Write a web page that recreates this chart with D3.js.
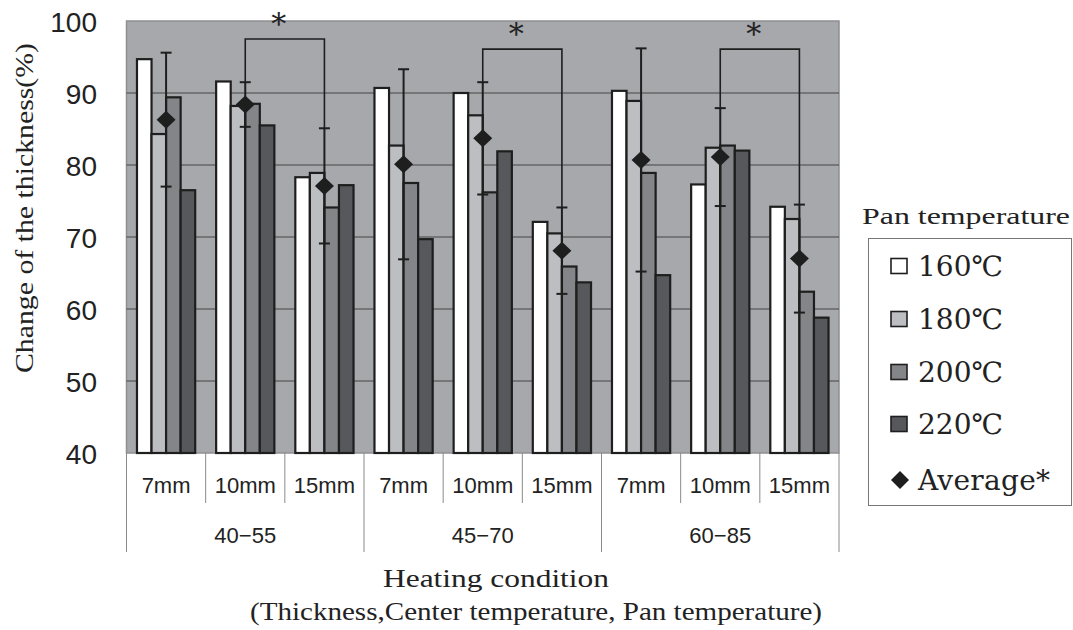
<!DOCTYPE html>
<html>
<head>
<meta charset="utf-8">
<script src="https://cdn.jsdelivr.net/npm/d3@7"></script>
<style>
  body { margin: 0; background: #fff; }
  .serif { font-family: "DejaVu Serif", "Liberation Serif", serif; fill: #222; }
  .title { font-family: "Liberation Serif", "DejaVu Serif", serif; fill: #222; }
  .sans { font-family: "Liberation Sans", Arial, sans-serif; fill: #222; }
</style>
</head>
<body>
<svg id="chart" width="1073" height="630"></svg>
<script>
// data
let thickness = ['7mm', '10mm', '15mm', '7mm', '10mm', '15mm', '7mm', '10mm', '15mm'];
let centerTemps = ['40−55', '45−70', '60−85'];
let panTemps = ['160℃', '180℃', '200℃', '220℃'];
let v160 = [94.7, 91.6, 78.3, 90.7, 90.0, 72.1, 90.3, 77.3, 74.2];
let v180 = [84.3, 88.2, 78.9, 82.7, 86.9, 70.5, 88.9, 82.4, 72.5];
let v200 = [89.4, 88.5, 74.1, 77.5, 76.2, 65.9, 78.9, 82.7, 62.4];
let v220 = [76.5, 85.5, 77.2, 69.7, 81.9, 63.7, 64.7, 82.0, 58.8];
let average = [86.3, 88.4, 77.1, 80.1, 83.7, 68.1, 80.7, 81.1, 67.0];
let sd = [9.3, 3.1, 8.0, 13.2, 7.8, 6.0, 15.5, 6.8, 7.5];
let yTicks = [40, 50, 60, 70, 80, 90, 100];
// pairs of conditions marked significant, with bracket height
let sigFrom = [1, 4, 7];
let sigTo = [2, 5, 8];
let sigLevel = [97.5, 96.1, 96.1];

let colors = ['#ffffff', '#bdbec2', '#838589', '#57585b'];
let series = [v160, v180, v200, v220];

let svg = d3.select('#chart');
let plotLeft = 126.5, plotRight = 839, plotTop = 21, plotBottom = 453;

let idx = d3.range(thickness.length);
let x = d3.scaleBand().domain(idx).range([plotLeft, plotRight]);
let xs = d3.scaleBand().domain(d3.range(4)).range([0, x.bandwidth()]).paddingOuter(0.72);
let y = d3.scaleLinear().domain([40, 100]).range([plotBottom, plotTop]);

// plot background
svg.append('rect')
  .attr('x', plotLeft).attr('y', plotTop)
  .attr('width', plotRight - plotLeft).attr('height', plotBottom - plotTop)
  .attr('fill', '#a7a8ac')
  .attr('stroke', '#8e8f93')
  .attr('stroke-width', 1.5);

// grid lines
svg.append('g').selectAll('line')
  .data(yTicks.filter(t => t > 40 && t < 100)).enter()
  .append('line')
  .attr('x1', plotLeft).attr('x2', plotRight)
  .attr('y1', d => y(d)).attr('y2', d => y(d))
  .attr('stroke', '#444').attr('stroke-width', 1);

// y axis labels
let yAxis = svg.append('g')
  .attr('transform', 'translate(97,0)')
  .call(d3.axisLeft(y).tickValues(yTicks).tickSize(0).tickPadding(0));
yAxis.select('.domain').remove();
yAxis.selectAll('text')
  .attr('class', 'sans')
  .style('font-size', '28px')
  .attr('dy', '0.36em');

// bars
let bars = svg.append('g');
series.forEach((vals, s) => {
  bars.selectAll('.bar' + s)
    .data(idx).enter()
    .append('rect')
    .attr('class', 'bar' + s)
    .attr('x', i => x(i) + xs(s))
    .attr('y', i => y(vals[i]))
    .attr('width', xs.bandwidth())
    .attr('height', i => y(40) - y(vals[i]))
    .attr('fill', colors[s])
    .attr('stroke', '#1e1e1e')
    .attr('stroke-width', 2.2);
});

// error bars
let cx = i => x(i) + x.bandwidth() / 2;
let err = svg.append('g').attr('stroke', '#1e1e1e').attr('stroke-width', 2);
err.selectAll('.stem').data(idx).enter()
  .append('line')
  .attr('x1', cx).attr('x2', cx)
  .attr('y1', i => y(average[i] + sd[i]))
  .attr('y2', i => y(average[i] - sd[i]));
[1, -1].forEach(sign => {
  err.selectAll('.cap' + sign).data(idx).enter()
    .append('line')
    .attr('x1', i => cx(i) - 5.5).attr('x2', i => cx(i) + 5.5)
    .attr('y1', i => y(average[i] + sign * sd[i]))
    .attr('y2', i => y(average[i] + sign * sd[i]));
});

// significance brackets
sigFrom.forEach((a, k) => {
  let b = sigTo[k];
  let level = y(sigLevel[k]);
  svg.append('path')
    .attr('d', 'M' + cx(a) + ',' + y(average[a] + sd[a]) +
      'V' + level + 'H' + cx(b) + 'V' + y(average[b] + sd[b]))
    .attr('fill', 'none')
    .attr('stroke', '#1e1e1e')
    .attr('stroke-width', 1.6);
  svg.append('text')
    .attr('class', 'serif')
    .attr('x', (cx(a) + cx(b)) / 2 - 6)
    .attr('y', level - 5)
    .attr('text-anchor', 'middle')
    .style('font-size', '30px')
    .text('*');
});

// average diamonds
function diamond(px, py, w, h) {
  return 'M' + px + ',' + (py - h) + 'L' + (px + w) + ',' + py +
    'L' + px + ',' + (py + h) + 'L' + (px - w) + ',' + py + 'Z';
}
svg.append('g').selectAll('path')
  .data(idx).enter()
  .append('path')
  .attr('d', i => diamond(cx(i), y(average[i]), 9.5, 9))
  .attr('fill', '#1e1e1e');

// category axis below the plot
let axis = svg.append('g');
axis.selectAll('.minor')
  .data(idx.filter(i => i % 3 != 0)).enter()
  .append('line')
  .attr('x1', i => x(i)).attr('x2', i => x(i))
  .attr('y1', plotBottom).attr('y2', 503)
  .attr('stroke', '#8a8a8a');
axis.selectAll('.major')
  .data(d3.range(4)).enter()
  .append('line')
  .attr('x1', g => g < 3 ? x(g * 3) : plotRight)
  .attr('x2', g => g < 3 ? x(g * 3) : plotRight)
  .attr('y1', plotBottom).attr('y2', 552)
  .attr('stroke', '#8a8a8a');
axis.selectAll('.thick')
  .data(idx).enter()
  .append('text')
  .attr('class', 'sans')
  .attr('x', cx)
  .attr('y', 493)
  .attr('text-anchor', 'middle')
  .style('font-size', '22px')
  .text(i => thickness[i]);
axis.selectAll('.center')
  .data(centerTemps).enter()
  .append('text')
  .attr('class', 'sans')
  .attr('x', (d, g) => (x(g * 3) + x(g * 3 + 2) + x.bandwidth()) / 2)
  .attr('y', 543)
  .attr('text-anchor', 'middle')
  .style('font-size', '22px')
  .text(d => d);

// axis titles, widened to match the wide serif of the original
function wideTitle(txt, len) {
  return svg.append('text')
    .attr('class', 'title')
    .attr('text-anchor', 'middle')
    .attr('textLength', len)
    .attr('lengthAdjust', 'spacingAndGlyphs')
    .style('font-size', '25px')
    .text(txt);
}
wideTitle('Change of the thickness(%)', 330)
  .attr('transform', 'translate(33,208) rotate(-90)');
wideTitle('Heating condition', 226)
  .attr('x', 496).attr('y', 587);
wideTitle('(Thickness,Center temperature, Pan temperature)', 572)
  .attr('x', 536).attr('y', 620);

// legend
svg.append('text')
  .attr('class', 'title')
  .attr('x', 862).attr('y', 224)
  .attr('textLength', 208)
  .attr('lengthAdjust', 'spacingAndGlyphs')
  .style('font-size', '23px')
  .text('Pan  temperature');
svg.append('rect')
  .attr('x', 868.5).attr('y', 238.5)
  .attr('width', 203).attr('height', 267)
  .attr('fill', '#fff')
  .attr('stroke', '#777');
let legY = [266, 319, 372, 424, 480];
let leg = svg.append('g');
panTemps.forEach((t, s) => {
  leg.append('rect')
    .attr('x', 891).attr('y', legY[s] - 7.5)
    .attr('width', 16).attr('height', 15)
    .attr('fill', colors[s])
    .attr('stroke', '#1e1e1e')
    .attr('stroke-width', 1.6);
  leg.append('text')
    .attr('class', 'serif')
    .attr('x', 918).attr('y', legY[s] + 10)
    .style('font-size', '28px')
    .text(t);
});
leg.append('path')
  .attr('d', diamond(900, legY[4], 9, 9))
  .attr('fill', '#1e1e1e');
leg.append('text')
  .attr('class', 'serif')
  .attr('x', 918).attr('y', legY[4] + 10)
  .attr('textLength', 132)
  .style('font-size', '28px')
  .text('Average*');
</script>
</body>
</html>
